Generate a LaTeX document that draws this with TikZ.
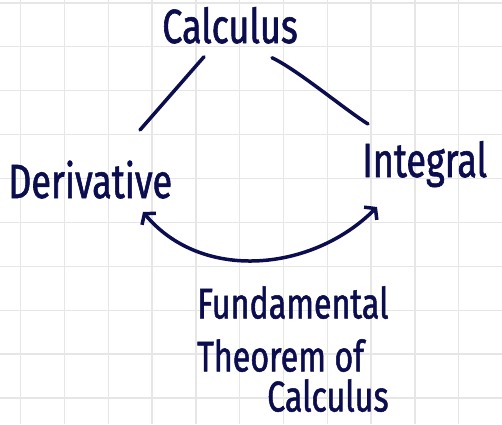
\documentclass[tikz,border=0pt]{standalone}
\usepackage{fontspec}
\newfontfamily\handfont[FakeStretch=0.75, FakeBold=1.2]{Fira Sans}
\usepackage{tikz}
\usetikzlibrary{arrows.meta}
\definecolor{ink}{HTML}{0B0D4E}
\definecolor{gridgray}{HTML}{E6E6E6}

\begin{document}
\begin{tikzpicture}[
    x=1pt, y=1pt,
    word/.style={
        inner sep=0pt,
        text=ink,
        font=\handfont\fontsize{48}{52}\selectfont
    },
    note/.style={word, align=left, font=\handfont\fontsize{43}{53}\selectfont},
    link/.style={draw=ink, line width=3.5pt, line cap=round},
    arrow/.style={link, {Straight Barb[length=7pt,width=18pt]}-{Straight Barb[length=7pt,width=18pt]}},
    gridline/.style={draw=gridgray, line width=1.3pt}
]

% Paper with grid
\fill[white] (0,0) rectangle (502,424);
\useasboundingbox (0,0) rectangle (502,424);
\foreach \gx in {0,...,10}
    \draw[gridline] (20.7+43.8*\gx,0) -- (20.7+43.8*\gx,424);
\foreach \gy in {0,...,9}
    \draw[gridline] (0,421.1-43.9*\gy) -- (502,421.1-43.9*\gy);

% Words
\node[word, anchor=base] (calc) at (230,381) {Calculus};
\node[word, anchor=base west] (deriv) at (8,226) {Derivative};
\node[word, anchor=base west] (integ) at (362,247) {Integral};
\node[note, anchor=north west] (ftc) at (197,138) {Fundamental\\Theorem of\\[-13pt]\hspace*{70pt}Calculus};

% Connectors
\draw[link] ([shift={(-26,-13)}]calc.south) -- ([shift={(132,68)}]deriv.base west);
\draw[link] ([shift={(42,-14)}]calc.south) to[out=-25, in=148, looseness=0.6] ([shift={(6,53)}]integ.base west);
\draw[arrow] ([shift={(135,-14)}]deriv.base west) to[out=-50, in=-135] ([shift={(15,-30)}]integ.base west);

\end{tikzpicture}
\end{document}
